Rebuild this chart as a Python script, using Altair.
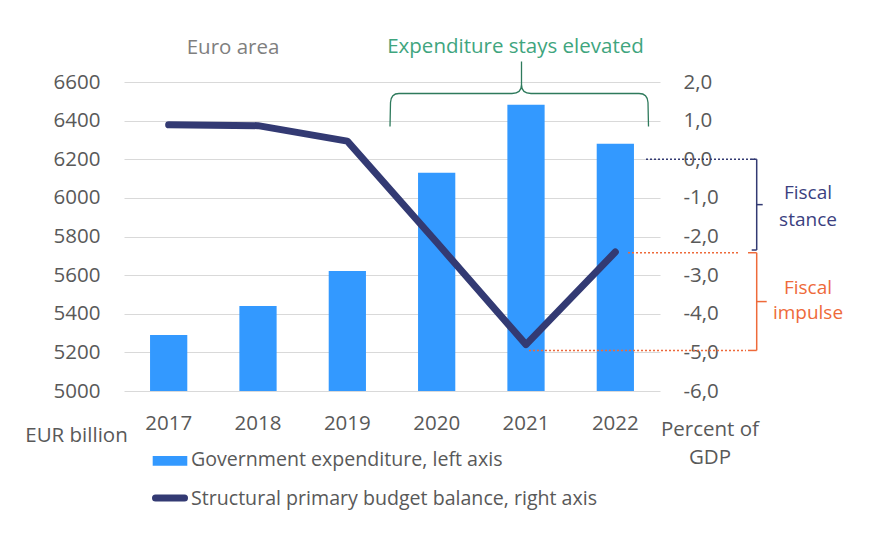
import altair as alt
import pandas as pd

# ---- data ----
years = ["2017", "2018", "2019", "2020", "2021", "2022"]
expenditure = [5290, 5440, 5622, 6130, 6482, 6280]          # EUR billion, left axis
balance = [0.89, 0.87, 0.47, -2.15, -4.8, -2.4]              # % of GDP, right axis

left_ticks = [5000, 5200, 5400, 5600, 5800, 6000, 6200, 6400, 6600]
right_ticks = [-6, -5, -4, -3, -2, -1, 0, 1, 2]

legend_labels = ["Government expenditure, left axis",
                 "Structural primary budget balance, right axis"]
annot_region = "Euro area"
annot_brace = "Expenditure stays elevated"
stance_lines = ["Fiscal", "stance"]
impulse_lines = ["Fiscal", "impulse"]
left_title = "EUR billion"
right_title = ["Percent of", "GDP"]

# fiscal stance / impulse reference levels (right axis units)
stance_top, stance_bottom = 0.0, -2.35
impulse_top, impulse_bottom = -2.42, -4.95

FONT = "Open Sans"
FS = 20.5
GREY = "#595959"
BAR = "#3399ff"
NAVY = "#333a73"
ORANGE = "#ee6a3a"
GREEN_T = "#3fa57e"
GREEN_B = "#2e7a5c"

W, H = 536, 309

df = pd.DataFrame({"year": years, "exp": expenditure, "bal": balance})
one = pd.DataFrame({"k": [0]})

xenc = alt.X("year:N", sort=years,
             scale=alt.Scale(paddingInner=0.583, paddingOuter=0.2915),
             axis=alt.Axis(title=None, labelFont=FONT, labelFontSize=FS, labelColor=GREY,
                           domain=False, ticks=False, tickSize=0, labelPadding=32,
                           labelBaseline="middle", labelAngle=0, grid=False))

bars = alt.Chart(df).mark_bar(color=BAR).encode(
    x=xenc,
    y=alt.Y("exp:Q", scale=alt.Scale(domain=[5000, 6600], zero=False, nice=False),
            axis=alt.Axis(title=None, values=left_ticks, grid=True, gridColor="#d9d9d9",
                          gridWidth=1, domain=False, ticks=False, tickSize=0, labelPadding=24,
                          format="d",
                          labelFont=FONT, labelFontSize=FS, labelColor=GREY, orient="left")),
    y2=alt.datum(5000),
)

rscale = alt.Scale(domain=[-6, 2], nice=False, zero=False)
raxis = alt.Axis(title=None, orient="right", values=right_ticks, grid=False,
                 domain=False, ticks=False, tickSize=0, labelPadding=23,
                 labelAlign="left", labelFont=FONT, labelFontSize=FS,
                 labelColor=GREY,
                 labelExpr="(datum.value < 0 ? '-' : '') + replace(format(abs(datum.value), '.1f'), '.', ',')")

line = alt.Chart(df).mark_line(color=NAVY, strokeWidth=7, strokeCap="round",
                               strokeJoin="round").encode(
    x=alt.X("year:N", sort=years),
    y=alt.Y("bal:Q", scale=rscale, axis=raxis, title=None),
)


def hrule(v, x1, x2, color, dash=None, width=1.5):
    kw = dict(color=color, strokeWidth=width)
    if dash:
        kw["strokeDash"] = dash
    return alt.Chart(pd.DataFrame({"v": [v]})).mark_rule(**kw).encode(
        y=alt.Y("v:Q", scale=rscale, axis=raxis, title=None),
        x=alt.value(x1), x2=alt.value(x2))


def vrule(v1, v2, x, color, width=1.5):
    return alt.Chart(pd.DataFrame({"v": [v1], "w": [v2]})).mark_rule(
        color=color, strokeWidth=width).encode(
        y=alt.Y("v:Q", scale=rscale, axis=raxis, title=None), y2="w:Q", x=alt.value(x))


stance_mid = (stance_top + stance_bottom) / 2
impulse_mid = (impulse_top + impulse_bottom) / 2
bx = 632.7
annots = [
    hrule(stance_top, 522, 631, NAVY, [2, 2]),
    hrule(impulse_top, 504, 616, ORANGE, [2, 2]),
    hrule(impulse_bottom, 405, 622, ORANGE, [2, 2]),
    vrule(stance_top, stance_bottom, bx, NAVY),
    hrule(stance_top, bx - 5, bx, NAVY),
    hrule(stance_bottom, bx - 5, bx, NAVY),
    hrule(stance_mid, bx, bx + 6, NAVY),
    vrule(impulse_top, impulse_bottom, bx, ORANGE),
    hrule(impulse_top, bx - 8.7, bx, ORANGE),
    hrule(impulse_bottom, bx - 8.7, bx, ORANGE),
    hrule(impulse_mid, bx, bx + 10, ORANGE),
]


def text(t, x, y, color, size=FS, align="center"):
    return alt.Chart(one).mark_text(font=FONT, fontSize=size, color=color, align=align,
                                    baseline="middle").encode(
        x=alt.value(x), y=alt.value(y), text=alt.value(t))


LFS = 19.6
texts = [
    text(annot_region, 109, -34, "#7f7f7f"),
    text(annot_brace, 391.5, -34.7, GREEN_T),
    text(stance_lines[0], 684, 111, "#3b3f80", 19),
    text(stance_lines[1], 684, 138, "#3b3f80", 19),
    text(impulse_lines[0], 684, 206, ORANGE, 19),
    text(impulse_lines[1], 684, 231, ORANGE, 19),
    text(left_title, -47.5, 354, GREY),
    text(right_title[0], 586, 347.7, GREY),
    text(right_title[1], 586, 375.5, GREY),
    text(legend_labels[0], 67, 377.7, GREY, size=LFS, align="left"),
    text(legend_labels[1], 67, 417, GREY, size=LFS, align="left"),
]

brace_path = ("M-129,33 L-128.5,9 Q-128,0 -120,0 L-7,0 Q2.5,0 2.5,-9 L2.5,-32 "
              "M2.5,-9 Q2.5,0 12,0 L120,0 Q128.5,0 129,9 L129.5,33")
brace = alt.Chart(one).mark_point(shape=brace_path, filled=False, stroke=GREEN_B,
                                  strokeWidth=1.3, opacity=1, size=4).encode(
    x=alt.value(395), y=alt.value(11.5))

leg_rect = alt.Chart(one).mark_rect(color=BAR).encode(
    x=alt.value(28.7), x2=alt.value(63.3), y=alt.value(374), y2=alt.value(383.7))
leg_line = alt.Chart(one).mark_rule(color=NAVY, strokeWidth=7, strokeCap="round").encode(
    x=alt.value(31.5), x2=alt.value(60.5), y=alt.value(416))

right_layer = alt.layer(line, *annots)
chart = alt.layer(bars, right_layer, brace, leg_rect, leg_line, *texts).resolve_scale(
    y="independent"
).properties(
    width=W, height=H,
    autosize=alt.AutoSizeParams(type="none"),
    padding={"left": 124, "top": 82, "right": 891 - 124 - W, "bottom": 547 - 82 - H},
    background="white",
).configure_view(stroke=None)

chart.save("out.html", embed_options={"renderer": "svg", "actions": False})
